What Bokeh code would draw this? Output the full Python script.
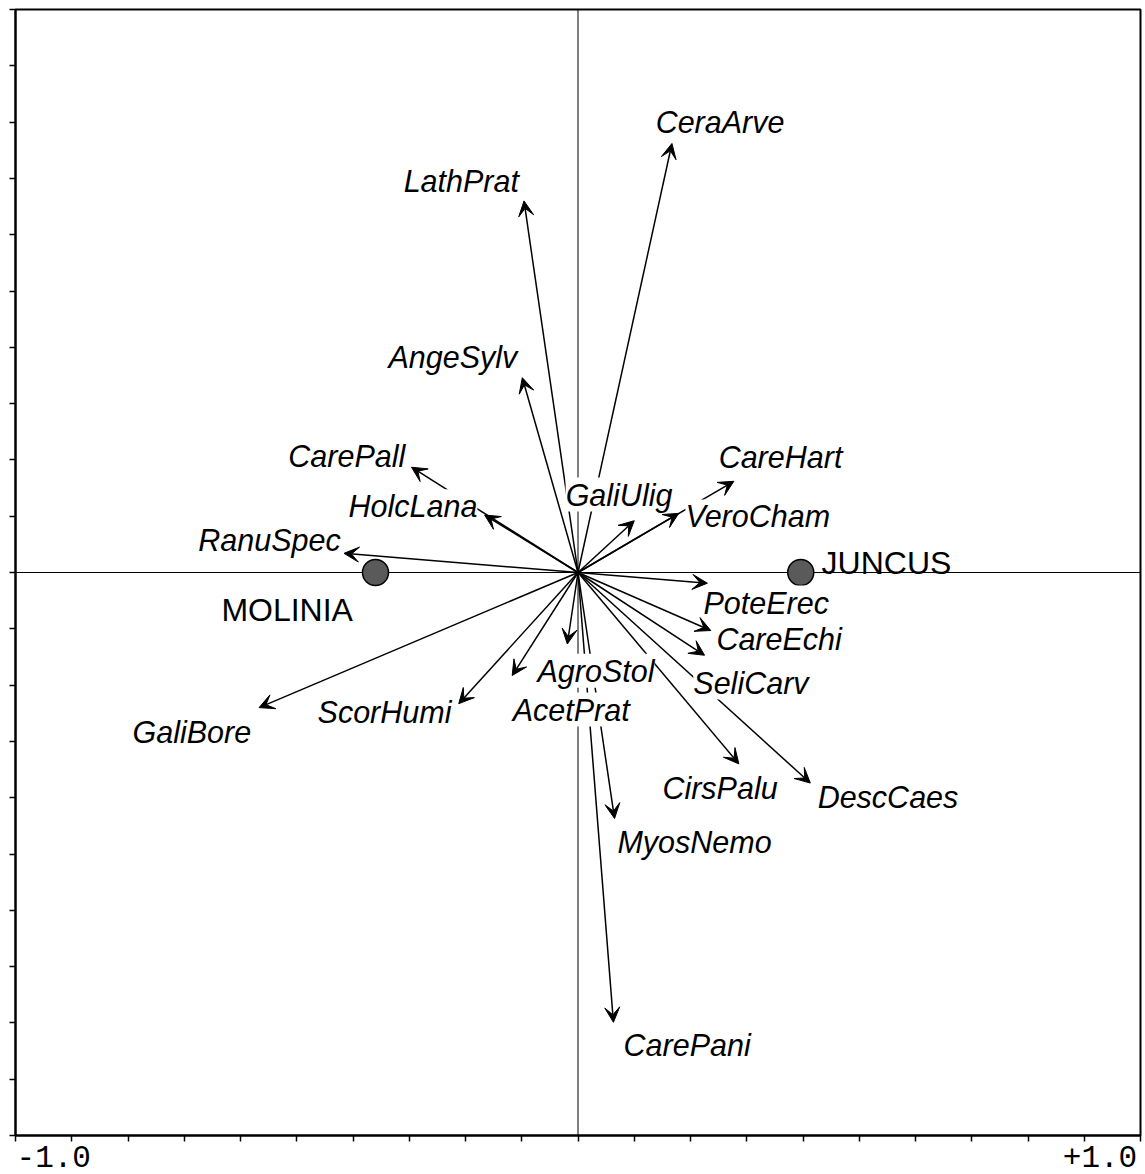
from bokeh.plotting import figure
from bokeh.models import (ColumnDataSource, Arrow, VeeHead, LabelSet, Label, Span,
                          FixedTicker, LinearAxis, Range1d)
from bokeh.core.properties import value
from bokeh.embed import file_html
from bokeh.resources import INLINE

# ---- data ----
species = ["CeraArve", "LathPrat", "AngeSylv", "CarePall", "HolcLana", "RanuSpec",
           "GaliUlig", "CareHart", "VeroCham", "PoteErec", "CareEchi", "SeliCarv",
           "DescCaes", "CirsPalu", "MyosNemo", "CarePani", "AgroStol", "AcetPrat",
           "ScorHumi", "GaliBore"]
arrow_x = [0.167, -0.096, -0.099, -0.296, -0.166, -0.416,
           0.100, 0.277, 0.179, 0.230, 0.236, 0.225,
           0.413, 0.286, 0.065, 0.063, -0.019, -0.117,
           -0.212, -0.567]
arrow_y = [0.762, 0.660, 0.346, 0.187, 0.102, 0.034,
           0.092, 0.162, 0.105, -0.019, -0.103, -0.147,
           -0.374, -0.340, -0.437, -0.799, -0.127, -0.183,
           -0.233, -0.240]
label_x = [0.138, -0.310, -0.337, -0.515, -0.408, -0.675,
           -0.022, 0.250, 0.191, 0.223, 0.246, 0.205,
           0.426, 0.150, 0.070, 0.081, -0.072, -0.116,
           -0.463, -0.792]
label_y = [0.780, 0.675, 0.364, 0.187, 0.098, 0.039,
           0.119, 0.185, 0.080, -0.073, -0.137, -0.215,
           -0.419, -0.403, -0.499, -0.858, -0.194, -0.263,
           -0.268, -0.302]

samples = ["MOLINIA", "JUNCUS"]
sample_x = [-0.360, 0.396]
sample_y = [0.0, 0.0]
sample_label_x = [-0.634, 0.433]
sample_label_y = [-0.066, 0.016]

tick_values = [-1.0, -0.9, -0.8, -0.7, -0.6, -0.5, -0.4, -0.3, -0.2, -0.1, 0.0,
               0.1, 0.2, 0.3, 0.4, 0.5, 0.6, 0.7, 0.8, 0.9, 1.0]
end_labels = ["-1.0", "+1.0"]
# label centres chosen so "-1.0" starts at the left edge and "+1.0" ends at the right edge
end_label_pos = [-0.932, 0.928]

# ---- figure ----
p = figure(x_range=Range1d(-1, 1), y_range=Range1d(-1, 1),
           width=1143, height=1174,
           min_border_left=15, min_border_right=3, min_border_top=9, min_border_bottom=39,
           x_axis_location=None, y_axis_location=None,
           output_backend="svg", toolbar_location=None)
p.grid.visible = False
p.outline_line_color = "black"
p.outline_line_width = 2
p.background_fill_color = "white"
p.border_fill_color = "white"

xa = LinearAxis(ticker=FixedTicker(ticks=end_label_pos, minor_ticks=tick_values),
                major_label_overrides={end_label_pos[0]: end_labels[0],
                                       end_label_pos[1]: end_labels[1]},
                major_tick_line_color=None, major_tick_out=6, major_tick_in=0,
                minor_tick_out=6, minor_tick_in=0,
                minor_tick_line_color="black", minor_tick_line_width=1.5,
                axis_line_color="black", axis_line_width=2,
                major_label_text_font="Liberation Mono", major_label_text_font_size="31px",
                major_label_text_color="black", major_label_standoff=4)
p.add_layout(xa, "below")

ya = LinearAxis(ticker=FixedTicker(ticks=[], minor_ticks=tick_values),
                major_tick_line_color=None, major_tick_out=0, major_tick_in=0,
                minor_tick_out=6, minor_tick_in=0,
                minor_tick_line_color="black", minor_tick_line_width=1.5,
                axis_line_color="black", axis_line_width=2)
p.add_layout(ya, "left")

# zero lines
p.add_layout(Span(location=0, dimension="width", line_color="black", line_width=1, level="underlay"))
p.add_layout(Span(location=0, dimension="height", line_color="black", line_width=1, level="underlay"))

# sample points
p.scatter(sample_x, sample_y, size=26, fill_color="#5a5a5a", line_color="black", line_width=1.5)

src = ColumnDataSource(dict(name=species, x=arrow_x, y=arrow_y, lx=label_x, ly=label_y))
p.add_layout(Arrow(end=VeeHead(size=15, fill_color="black", line_color="black", line_width=1),
                   x_start=0, y_start=0, x_end="x", y_end="y", source=src,
                   line_color="black", line_width=1.5))

p.add_layout(LabelSet(x="lx", y="ly", text="name", source=src,
                      text_font=value("Liberation Sans"), text_font_style="italic",
                      text_font_size="30.5px", text_color="black",
                      text_align="left", text_baseline="alphabetic",
                      background_fill_color="white"))

for nm, sx, sy in zip(samples, sample_label_x, sample_label_y):
    p.add_layout(Label(x=sx, y=sy, text=nm, text_font="Liberation Sans",
                       text_font_size="32px", text_color="black",
                       text_align="left", text_baseline="alphabetic"))

open("out.html", "w").write(file_html(p, INLINE, "biplot"))
